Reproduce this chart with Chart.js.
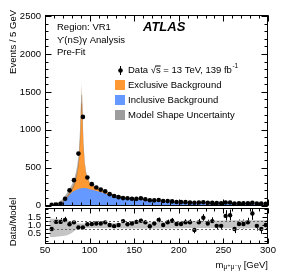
<!DOCTYPE html>
<html><head><meta charset="utf-8">
<script src="https://cdn.jsdelivr.net/npm/chart.js@4.4.0/dist/chart.umd.min.js"></script>
<style>
html,body{margin:0;padding:0;background:#fff;width:283px;height:274px;overflow:hidden}
#wrap{position:relative;width:283px;height:274px}
canvas{position:absolute;left:0;top:0}
</style></head><body>
<div id="wrap"><canvas id="main" width="283" height="274"></canvas><canvas id="ratio" width="283" height="274"></canvas></div>
<script>
// ---------- data ----------
const binCenters = [57.5,62.5,67.5,72.5,77.5,82.5,87.5,92.5,97.5,102.5,
  107.5,112.5,117.5,122.5,127.5,132.5,137.5,142.5,147.5,152.5,
  157.5,162.5,167.5,172.5,177.5,182.5,187.5,192.5,197.5,202.5,
  207.5,212.5,217.5,222.5,227.5,232.5,237.5,242.5,247.5,252.5,
  257.5,262.5,267.5,272.5,277.5,282.5,287.5,292.5,297.5];
const dataEvents = [8,12,22,90,200,335,685,1170,370,282,
  237,210,187,150,125,110,98,96,90,88,
  95,83,70,68,72,60,58,54,47,45,
  44,38,36,40,42,36,34,33,30,40,
  40,27,30,30,28,36,26,27,24];
const modelMass = [55,60,65,70,75,80,83,86,88,89.5,90.5,91.2,92,93,94.5,96,98,100,105,110,115,120,130,140,150,160,170,180,190,200,220,240,260,280,300];
const modelTotal = [5,10,25,60,130,220,300,440,620,950,1350,1590,1250,820,560,430,355,300,255,222,192,168,132,108,90,77,67,59,52,46,38,33,29,25,22];
const modelInclusive = [0,3,15,45,110,170,195,212,220,225,228,230,231,232,232,230,225,215,200,184,167,150,122,100,82,70,60,52,46,40,33,28,25,21,18];
const modelUncUp = [8,16,40,90,175,275,360,510,710,1060,1460,1630,1320,880,590,450,368,310,264,230,199,174,137,112,94,80,70,61,54,48,40,35,31,27,24];
const modelUncDown = [3,6,14,40,100,180,260,390,540,820,1150,1260,1080,760,530,410,342,290,246,214,185,162,127,104,86,74,64,57,50,44,36,31,27,23,20];
const ratioValues = [0.75,1.20,1.20,1.32,1.05,1.17,0.85,0.85,1.05,1.07,
  1.10,1.10,1.17,1.00,0.93,1.00,1.25,1.05,1.10,1.20,
  1.27,1.17,0.92,1.10,1.32,1.00,1.17,1.27,1.07,1.07,
  1.17,1.17,0.69,1.17,1.46,1.10,1.25,0.95,0.95,1.58,
  1.62,0.75,1.07,1.07,1.17,1.73,0.95,0.75,1.00];
const ratioErrors = [0.45,0.30,0.25,0.20,0.12,0.08,0.05,0.04,0.06,0.08,
  0.08,0.09,0.09,0.10,0.10,0.11,0.11,0.12,0.12,0.13,
  0.13,0.14,0.15,0.15,0.16,0.17,0.17,0.18,0.19,0.19,
  0.20,0.20,0.21,0.22,0.23,0.24,0.24,0.25,0.26,0.36,
  0.36,0.26,0.28,0.28,0.29,0.40,0.30,0.30,0.31];
const ratioBandMass = [55,60,65,70,75,80,85,90,100,120,150,180,200,210,230,260,300];
const ratioBandUp = [1.40,1.40,1.38,1.35,1.30,1.22,1.12,1.10,1.10,1.12,1.15,1.18,1.22,1.25,1.28,1.30,1.30];
const ratioBandDown = [0.25,0.25,0.28,0.30,0.35,0.50,0.72,0.80,0.82,0.80,0.78,0.78,0.80,0.82,0.82,0.80,0.80];
const yTicksMain = [0,500,1000,1500,2000,2500];
const yTicksRatio = [0.5,1.0,1.5];
const xTicks = [50,100,150,200,250,300];
const ratioRefLines = [0.75,1.25];

// ---------- styling ----------
const FONT = "'Liberation Sans', Arial, Helvetica, 'DejaVu Sans', sans-serif";
Chart.defaults.font.family = FONT;
Chart.defaults.font.size = 9.5;
Chart.defaults.color = '#000';
const C_EXCL = '#ff9933', C_INCL = '#6699ff', C_UNC = 'rgba(105,105,105,0.5)';
const pts = (xs, ys) => xs.map((v, i) => ({x: v, y: ys[i]}));

function frameTicks(chart, o) {
  const {ctx, chartArea: a, scales: {x, y}} = chart;
  const L = Math.round(a.left) + 0.5, R = Math.round(a.right) - 0.5;
  const T = Math.round(a.top) + 0.5, B = Math.round(a.bottom) - 0.5;
  ctx.save();
  ctx.strokeStyle = '#000'; ctx.lineWidth = 1;
  ctx.beginPath();
  const xt = (v, len) => { const p = Math.round(x.getPixelForValue(v)) + 0.5;
    ctx.moveTo(p, B); ctx.lineTo(p, B - len); ctx.moveTo(p, T); ctx.lineTo(p, T + len); };
  const yt = (v, len) => { const p = Math.round(y.getPixelForValue(v)) + 0.5;
    ctx.moveTo(L, p); ctx.lineTo(L + len, p); ctx.moveTo(R, p); ctx.lineTo(R - len, p); };
  for (let v = x.min; v <= x.max + 1e-9; v += o.xMinorStep) xt(v, o.minLen);
  xTicks.forEach(v => xt(v, o.majLen));
  for (let v = o.yMinorStart; v <= y.max + 1e-9; v += o.yMinorStep) yt(v, o.minLen);
  o.yMajor.forEach(v => yt(v, o.majLen));
  ctx.stroke();
  ctx.strokeRect(L, T, R - L, B - T);
  ctx.restore();
}

const mainDecor = {
  id: 'mainDecor',
  afterDraw(chart) {
    const {ctx} = chart;
    frameTicks(chart, {xMinorStep: 10, yMinorStart: 0, yMinorStep: 100, majLen: 6, minLen: 3, yMajor: yTicksMain});
    ctx.save();
    ctx.fillStyle = '#000'; ctx.strokeStyle = '#000';
    ctx.textBaseline = 'middle';
    // y title
    ctx.save(); ctx.translate(13, 10); ctx.rotate(-Math.PI / 2);
    ctx.font = `9.5px ${FONT}`; ctx.textAlign = 'right';
    ctx.fillText('Events / 5 GeV', 0, 0); ctx.restore();
    // labels
    ctx.textAlign = 'left';
    ctx.font = `9.5px ${FONT}`;
    ctx.fillText('Region: VR1', 57, 27);
    ctx.fillText('\u03D2(nS)\u03B3 Analysis', 57, 40);
    ctx.fillText('Pre-Fit', 57, 52.5);
    ctx.font = `italic bold 13px ${FONT}`;
    ctx.fillText('ATLAS', 143, 27);
    // legend
    ctx.font = `9.5px ${FONT}`;
    ctx.lineWidth = 1;
    ctx.beginPath(); ctx.moveTo(120.5, 66); ctx.lineTo(120.5, 75); ctx.stroke();
    ctx.beginPath(); ctx.arc(120.5, 70.5, 2.3, 0, 2 * Math.PI); ctx.fill();
    let tx = 128; const ty = 70.5;
    const put = (s) => { ctx.fillText(s, tx, ty); tx += ctx.measureText(s).width; };
    put('Data ');
    put('\u221A');
    const sx = tx; put('s');
    ctx.beginPath(); ctx.moveTo(sx - 0.5, ty - 4.5); ctx.lineTo(tx, ty - 4.5); ctx.stroke();
    put(' = 13 TeV, 139 fb');
    ctx.font = `6.5px ${FONT}`; ctx.fillText('-1', tx + 0.5, ty - 4);
    ctx.font = `9.5px ${FONT}`;
    const legendItems = [[C_EXCL, 'Exclusive Background', 80], [C_INCL, 'Inclusive Background', 95], ['#9d9d9d', 'Model Shape Uncertainty', 110]];
    legendItems.forEach(([c, t, yy]) => {
      ctx.fillStyle = c; ctx.fillRect(115, yy, 10, 10);
      ctx.fillStyle = '#000'; ctx.fillText(t, 128, yy + 5.5);
    });
    ctx.restore();
  }
};

new Chart(document.getElementById('main'), {
  type: 'line',
  data: {datasets: [
    {label: 'Exclusive Background', data: pts(modelMass, modelTotal), backgroundColor: C_EXCL, borderColor: 'rgba(0,0,0,0)', borderWidth: 0, pointRadius: 0, fill: 'origin', order: 4},
    {label: 'Inclusive Background', data: pts(modelMass, modelInclusive), backgroundColor: C_INCL, borderColor: 'rgba(0,0,0,0)', borderWidth: 0, pointRadius: 0, fill: 'origin', order: 3},
    {label: 'Model Shape Uncertainty', data: pts(modelMass, modelUncUp), backgroundColor: C_UNC, borderColor: 'rgba(0,0,0,0)', borderWidth: 0, pointRadius: 0, fill: '+1', order: 2},
    {label: 'unc-down', data: pts(modelMass, modelUncDown), borderColor: 'rgba(0,0,0,0)', borderWidth: 0, pointRadius: 0, fill: false, order: 2},
    {type: 'scatter', label: 'Data', data: pts(binCenters, dataEvents), backgroundColor: '#000', borderColor: '#000', borderWidth: 0, pointRadius: 2.3, order: 0}
  ]},
  options: {
    responsive: false, animation: false, events: [],
    layout: {padding: {top: 15, right: 15, bottom: 68.5, left: 0}},
    plugins: {legend: {display: false}, tooltip: {enabled: false}},
    scales: {
      x: {type: 'linear', min: 50, max: 300, ticks: {display: false}, grid: {display: false, drawTicks: false}, border: {display: false}, afterFit: s => { s.height = 0; }},
      y: {type: 'linear', min: 0, max: 2515,
        afterBuildTicks: s => { s.ticks = yTicksMain.map(v => ({value: v})); },
        ticks: {padding: 4, callback: v => String(v)},
        grid: {display: false, drawTicks: false}, border: {display: false},
        afterFit: s => { s.width = 45; }}
    }
  },
  plugins: [mainDecor]
});

const ratioDecor = {
  id: 'ratioDecor',
  beforeDatasetsDraw(chart) {
    const {ctx, chartArea: a, scales: {x, y}} = chart;
    ctx.save();
    ctx.beginPath(); ctx.rect(a.left, a.top, a.right - a.left, a.bottom - a.top); ctx.clip();
    ctx.strokeStyle = '#000'; ctx.lineWidth = 1;
    ctx.beginPath();
    binCenters.forEach((m, i) => {
      const px = Math.round(x.getPixelForValue(m)) + 0.5;
      ctx.moveTo(px, y.getPixelForValue(ratioValues[i] + ratioErrors[i]));
      ctx.lineTo(px, y.getPixelForValue(ratioValues[i] - ratioErrors[i]));
    });
    ctx.stroke();
    ctx.restore();
  },
  afterDraw(chart) {
    const {ctx, chartArea: a, scales: {x, y}} = chart;
    ctx.save();
    ctx.strokeStyle = '#666'; ctx.lineWidth = 1; ctx.setLineDash([2, 2]);
    ctx.beginPath();
    ratioRefLines.forEach(v => { const p = Math.round(y.getPixelForValue(v)) + 0.5; ctx.moveTo(a.left, p); ctx.lineTo(a.right, p); });
    ctx.stroke();
    ctx.restore();
    frameTicks(chart, {xMinorStep: 10, yMinorStart: 0, yMinorStep: 0.25, majLen: 5, minLen: 3, yMajor: yTicksRatio});
    ctx.save();
    ctx.fillStyle = '#000'; ctx.textBaseline = 'middle';
    ctx.save(); ctx.translate(13, 222); ctx.rotate(-Math.PI / 2);
    ctx.font = `9.5px ${FONT}`; ctx.textAlign = 'center';
    ctx.fillText('Data/Model', 0, 0); ctx.restore();
    // x title, right aligned
    const big = `9.5px ${FONT}`, small = `6.5px ${FONT}`;
    ctx.font = big; const w1 = ctx.measureText(' [GeV]').width, wm = ctx.measureText('m').width;
    ctx.font = small; const ws = ctx.measureText('\u03BC\u207A\u03BC\u207B\u03B3').width;
    let xr = 268 - w1 - ws - wm; const yb = 265;
    ctx.font = big; ctx.textAlign = 'left'; ctx.fillText('m', xr, yb); xr += wm;
    ctx.font = small; ctx.fillText('\u03BC\u207A\u03BC\u207B\u03B3', xr, yb + 2.5); xr += ws;
    ctx.font = big; ctx.fillText(' [GeV]', xr, yb);
    ctx.restore();
  }
};

new Chart(document.getElementById('ratio'), {
  type: 'line',
  data: {datasets: [
    {label: 'band-up', data: pts(ratioBandMass, ratioBandUp), backgroundColor: '#c4c4c4', borderColor: 'rgba(0,0,0,0)', borderWidth: 0, pointRadius: 0, fill: '+1', order: 2},
    {label: 'band-down', data: pts(ratioBandMass, ratioBandDown), borderColor: 'rgba(0,0,0,0)', borderWidth: 0, pointRadius: 0, fill: false, order: 2},
    {type: 'scatter', label: 'Data/Model', data: pts(binCenters, ratioValues), backgroundColor: '#000', borderColor: '#000', borderWidth: 0, pointRadius: 2.2, order: 0}
  ]},
  options: {
    responsive: false, animation: false, events: [],
    layout: {padding: {top: 208, right: 15, bottom: 0, left: 0}},
    plugins: {legend: {display: false}, tooltip: {enabled: false}},
    scales: {
      x: {type: 'linear', min: 50, max: 300,
        afterBuildTicks: s => { s.ticks = xTicks.map(v => ({value: v})); },
        ticks: {padding: 1, maxRotation: 0, callback: v => String(v)},
        grid: {display: false, drawTicks: false}, border: {display: false},
        afterFit: s => { s.height = 30; }},
      y: {type: 'linear', min: -0.2, max: 2.08,
        afterBuildTicks: s => { s.ticks = yTicksRatio.map(v => ({value: v})); },
        ticks: {padding: 4, callback: v => v.toFixed(1)},
        grid: {display: false, drawTicks: false}, border: {display: false},
        afterFit: s => { s.width = 45; }}
    }
  },
  plugins: [ratioDecor]
});
</script>
</body></html>
